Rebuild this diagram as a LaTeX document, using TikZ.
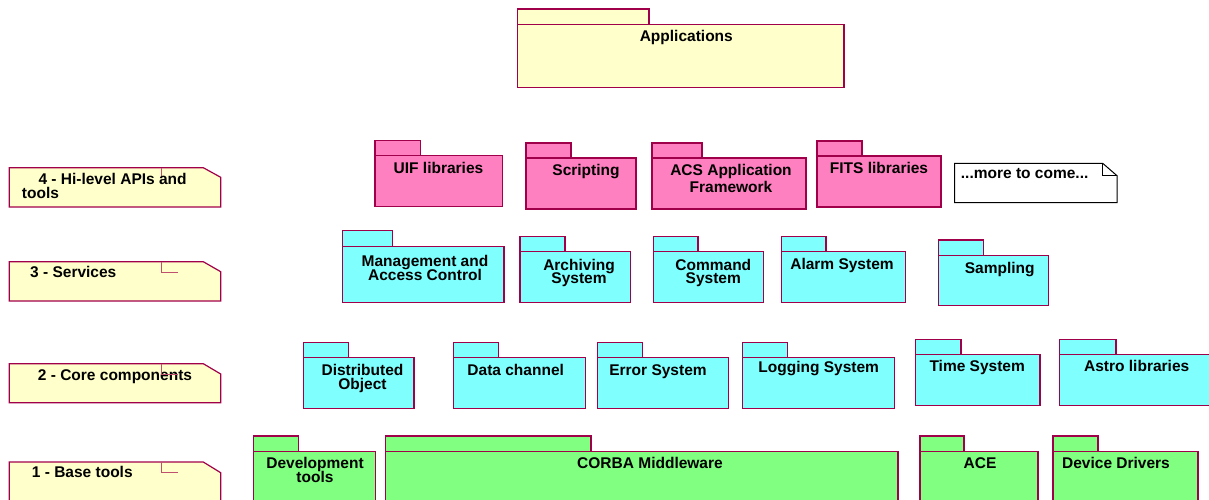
\documentclass[tikz,border=0pt]{standalone}
\usepackage{fontspec}
\setmainfont{Liberation Sans}
\definecolor{edge}{HTML}{A0004A}
\definecolor{markc}{HTML}{C05070}
\definecolor{notefill}{HTML}{FFFFCC}
\definecolor{pinkfill}{HTML}{FF80C0}
\definecolor{cyanfill}{HTML}{80FFFF}
\definecolor{greenfill}{HTML}{80FF80}
\tikzset{
  pkgline/.style={draw=edge, line width=1.2pt},
  noteline/.style={draw=edge, line width=1.2pt, fill=notefill},
  markline/.style={draw=markc, line width=0.9pt},
  lbl/.style={font=\fontsize{15.5}{15.5}\selectfont\bfseries, inner sep=0pt, anchor=base, text=black},
  lblw/.style={lbl, anchor=base west},
}
\newcommand\pkgbox[7]{%
  \draw[pkgline, fill=#1] (#2,#4) rectangle (#3,#5);
  \draw[pkgline, fill=#1] (#2,#5) rectangle (#6,#7);}
\newcommand\layernote[3]{%
  \draw[noteline] (9.3,#1) -- (203.3,#1) -- (220.7,#3) -- (220.7,#2) -- (9.3,#2) -- cycle;}
\begin{document}
\begin{tikzpicture}[x=1pt,y=-1pt]
\useasboundingbox (0,0) rectangle (1209,499);
\clip (0,0) rectangle (1209,499);
% layer notes
\layernote{167.7}{207}{177.3}
\draw[markline] (161.7,167.7) -- (161.7,177.3);
\node[lblw, text depth=0pt] (n4a) at (38.3,184.5) {4 - Hi-level APIs and};
\node[lblw] (n4b) at (21.7,198) {tools};
\layernote{261.7}{301}{271.7}
\node[lblw] (n3) at (30,277.3) {3 - Services};
\draw[markline] (161.7,261.7) -- (161.7,272) -- (177.7,272);
\layernote{363.7}{402.7}{374}
\node[lblw] (n2) at (37.7,380.7) {2 - Core components};
\draw[markline] (161.7,363.7) -- (161.7,374) -- (177.7,374);
\layernote{462}{510}{472.7}
\node[lblw] (n1) at (31.7,477.3) {1 - Base tools};
\draw[markline] (161.7,462) -- (161.7,472) -- (177.7,472);
% applications
\pkgbox{notefill}{517.3}{649}{9}{24.3}{844}{87.3}
\node[lbl] (apps) at (686.3,41.7) {Applications};
% layer 4
\pkgbox{pinkfill}{375}{420.3}{140.7}{155.7}{502.3}{206.3}
\node[lbl] (uif) at (438.5,173.3) {UIF libraries};
\pkgbox{pinkfill}{526}{571}{143}{158}{636}{209}
\node[lbl] (scr) at (586,175.6) {Scripting};
\pkgbox{pinkfill}{652}{702}{143}{158}{806}{209}
\node[lbl] (acs1) at (731,175) {ACS Application};
\node[lbl] (acs2) at (731,192) {Framework};
\pkgbox{pinkfill}{817}{862}{141}{156}{941}{207}
\node[lbl] (fits) at (879,173.6) {FITS libraries};
\draw[draw=black, line width=1pt, fill=white] (954.7,163.3) -- (1102.7,163.3) -- (1117,175.7) -- (1117,202.7) -- (954.7,202.7) -- cycle;
\draw[draw=black, line width=0.8pt] (1102.7,163.3) -- (1102.7,175.7) -- (1117,175.7);
\node[lblw] (more) at (960.7,178) {...more to come...};
% layer 3
\pkgbox{cyanfill}{342.3}{392.7}{230.7}{246.7}{504}{302.3}
\node[lbl] (mac1) at (425,266.5) {Management and};
\node[lbl] (mac2) at (425,280) {Access Control};
\pkgbox{cyanfill}{520}{565}{236.7}{251.7}{630.7}{302.3}
\node[lbl] (arc1) at (579,270) {Archiving};
\node[lbl] (arc2) at (579,283.3) {System};
\pkgbox{cyanfill}{653.3}{698}{236.7}{251.7}{763.7}{302.3}
\node[lbl] (cmd1) at (713.3,270) {Command};
\node[lbl] (cmd2) at (713.3,283.3) {System};
\pkgbox{cyanfill}{781.3}{826}{236.3}{251.3}{905.3}{302.3}
\node[lbl] (alarm) at (842,269.3) {Alarm System};
\pkgbox{cyanfill}{938.3}{983.3}{240}{255.3}{1048.7}{305.7}
\node[lbl] (samp) at (999.7,273.3) {Sampling};
% layer 2
\pkgbox{cyanfill}{303.3}{348.7}{342.3}{357.7}{414}{408.3}
\node[lbl] (do1) at (362.5,375) {Distributed};
\node[lbl] (do2) at (362.5,389) {Object};
\pkgbox{cyanfill}{453.3}{498.7}{342.3}{357.7}{585.7}{408.3}
\node[lbl] (dc) at (515.7,375) {Data channel};
\pkgbox{cyanfill}{597.7}{642.7}{342.3}{357.7}{728.7}{408.3}
\node[lbl] (err) at (658,375) {Error System};
\pkgbox{cyanfill}{742.3}{787.3}{342.3}{357.7}{894.7}{408.3}
\node[lbl] (log) at (818.7,372.7) {Logging System};
\pkgbox{cyanfill}{915.7}{961}{339.3}{354.3}{1040}{405.3}
\node[lbl] (time) at (977.2,371.7) {Time System};
\pkgbox{cyanfill}{1059.3}{1116}{339.3}{354.3}{1214}{405.3}
\node[lbl] (astro) at (1136.7,371.7) {Astro libraries};
% layer 1
\pkgbox{greenfill}{253.3}{298.3}{436}{451.3}{375.3}{510}
\node[lbl] (dev1) at (315,468.3) {Development};
\node[lbl] (dev2) at (315,482.7) {tools};
\pkgbox{greenfill}{385.7}{591}{436}{451.3}{898}{510}
\node[lbl] (corba) at (650,468) {CORBA Middleware};
\pkgbox{greenfill}{920}{964}{436}{451.3}{1038}{510}
\node[lbl] (ace) at (980,468) {ACE};
\pkgbox{greenfill}{1053}{1098}{436}{451.3}{1198}{510}
\node[lbl] (dd) at (1116,468) {Device Drivers};
\end{tikzpicture}
\end{document}
